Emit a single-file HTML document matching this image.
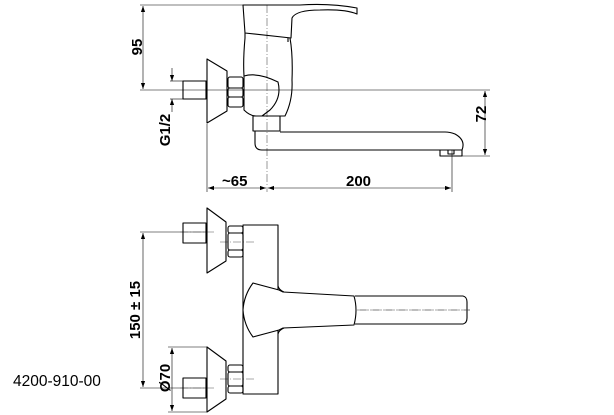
<!DOCTYPE html>
<html><head><style>html,body{margin:0;padding:0;background:#fff}svg{display:block}</style></head><body>
<svg width="614" height="415" viewBox="0 0 614 415" xmlns="http://www.w3.org/2000/svg" font-family="Liberation Sans, sans-serif">
<defs>
<marker id="a" viewBox="0 0 10 10" refX="10" refY="5" markerWidth="6" markerHeight="10" markerUnits="userSpaceOnUse" orient="auto-start-reverse"><path d="M0,1.5L10,5L0,8.5z" fill="#000"/></marker>
</defs>
<g stroke="#000" fill="none" stroke-width="0.6">
<line x1="140" y1="5" x2="245" y2="5"/>
<line x1="140" y1="90" x2="490" y2="90"/>
<line x1="143" y1="6" x2="143" y2="89" marker-start="url(#a)" marker-end="url(#a)"/>
<line x1="170" y1="81" x2="185" y2="81"/>
<line x1="170" y1="99" x2="185" y2="99"/>
<line x1="172" y1="68" x2="172" y2="81" marker-end="url(#a)"/>
<line x1="172" y1="112" x2="172" y2="99" marker-end="url(#a)"/>
<line x1="445" y1="156" x2="490" y2="156"/>
<line x1="485" y1="91" x2="485" y2="155" marker-start="url(#a)" marker-end="url(#a)"/>
<line x1="207" y1="124" x2="207" y2="192"/>
<line x1="452" y1="150" x2="452" y2="192"/>
<line x1="208" y1="188" x2="266" y2="188" marker-start="url(#a)" marker-end="url(#a)"/>
<line x1="268" y1="188" x2="451" y2="188" marker-start="url(#a)" marker-end="url(#a)"/>
<line x1="267" y1="5" x2="267" y2="192" stroke="#555" stroke-dasharray="8,2,1,2"/>
</g>
<g stroke="#000" fill="none" stroke-width="1.1" stroke-linejoin="round">
<rect x="183" y="81" width="23" height="18"/>
<path d="M207,59 L207,123 L227,111 L227,71 Z"/>
<rect x="228" y="77" width="15" height="11" rx="2"/>
<rect x="228" y="88" width="15" height="9" rx="2"/>
<rect x="228" y="97" width="15" height="10" rx="2"/>
<path d="M243,5 L245,33 L291,38 L292,18 Q296,10 320,10 Q345,9 357,14 L357,8 Q330,3 300,5 Z"/>
<path d="M245,33 L245,38 M288,38 L288,42"/>
<path d="M245,38 Q243,60 244,76 L244,110 Q250,116 256,116 L285,116 Q293,100 292,80 Q293,55 290,38"/>
<path d="M244,76 Q258,72 278,82 Q282,98 270,110 L262,116"/>
<rect x="253" y="116" width="27" height="15"/>
<path d="M255,131 L255,143 Q255,150 262,150 L440,150 L462,150 Q466,140 455,134 Q450,132 445,132 L280,132"/>
<rect x="440" y="150" width="22" height="6"/>
<rect x="448" y="150" width="6" height="4"/>
</g>
<g stroke="#000" fill="none" stroke-width="0.6">
<line x1="140" y1="232" x2="207" y2="232"/>
<line x1="140" y1="388" x2="207" y2="388"/>
<line x1="143" y1="233" x2="143" y2="387" marker-start="url(#a)" marker-end="url(#a)"/>
<line x1="168" y1="347" x2="207" y2="347"/>
<line x1="168" y1="412" x2="207" y2="412"/>
<line x1="172" y1="348" x2="172" y2="411" marker-start="url(#a)" marker-end="url(#a)"/>
<g stroke="#555" stroke-dasharray="8,2,1,2">
<line x1="180" y1="232" x2="215" y2="232"/>
<line x1="220" y1="242" x2="255" y2="242"/>
<line x1="180" y1="388" x2="215" y2="388"/>
<line x1="220" y1="379" x2="255" y2="379"/>
<line x1="243" y1="310" x2="470" y2="310"/>
</g>
<line x1="267" y1="303" x2="267" y2="317"/>
</g>
<g stroke="#000" fill="none" stroke-width="1.1" stroke-linejoin="round">
<rect x="243" y="225" width="35" height="169"/>
<rect x="183" y="223" width="23" height="20"/>
<path d="M207,208 L207,273 L226,261 L226,222 Z"/>
<rect x="228" y="226" width="15" height="7" rx="2"/>
<rect x="228" y="233" width="15" height="17" rx="2"/>
<rect x="228" y="250" width="15" height="7" rx="2"/>
<rect x="183" y="378" width="23" height="20"/>
<path d="M207,347 L207,412 L226,399 L226,361 Z"/>
<rect x="228" y="365" width="15" height="7" rx="2"/>
<rect x="228" y="372" width="15" height="14" rx="2"/>
<rect x="228" y="386" width="15" height="7" rx="2"/>
<path d="M253,283 Q244,295 243,310 Q244,325 253,337 L279,330 L283,328 L354,325 Q358,310 354,296 L283,292 L279,290 Z" fill="#fff"/>
<path d="M278,286 Q279,290 284,292 M278,334 Q279,330 284,328"/>
<path d="M355,296 L463,296 Q467,297 467,302 L467,318 Q467,323 463,324 L355,324"/>
</g>
<line x1="358" y1="310" x2="470" y2="310" stroke="#555" stroke-width="0.6" stroke-dasharray="8,2,1,2"/>
<g font-size="15" font-weight="bold" fill="#000">
<text x="346" y="186">200</text>
<text x="222" y="186">~65</text>
<text transform="translate(142,47) rotate(-90)" text-anchor="middle">95</text>
<text transform="translate(486,114) rotate(-90)" text-anchor="middle">72</text>
<text transform="translate(170,130) rotate(-90)" text-anchor="middle">G1/2</text>
<text transform="translate(140,310) rotate(-90)" text-anchor="middle">150 ± 15</text>
<text transform="translate(170,378) rotate(-90)" text-anchor="middle">Ø70</text>
</g>
<text x="13" y="386" font-size="15.5" fill="#000">4200-910-00</text>
</svg>
</body></html>
